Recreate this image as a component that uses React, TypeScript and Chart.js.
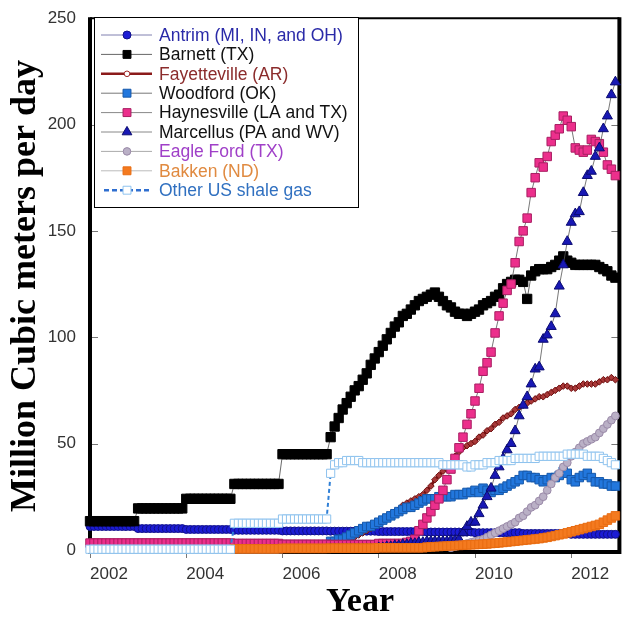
import React, { useEffect, useRef } from "react";
import { Chart, registerables } from "chart.js";

Chart.register(...registerables);

// ---------- categories / ticks ----------
const annualYears = [2002, 2003, 2004, 2005, 2006];
const monthlyStartYear = 2007;
const xTickValues = [2002, 2004, 2006, 2008, 2010, 2012];
const yTickValues = [0, 50, 100, 150, 200, 250];
const xTitle = "Year";
const yTitle = "Million Cubic meters per day";

const seriesNames = [
  "Antrim (MI, IN, and OH)",
  "Barnett (TX)",
  "Fayetteville (AR)",
  "Woodford (OK)",
  "Haynesville (LA and TX)",
  "Marcellus (PA and WV)",
  "Eagle Ford (TX)",
  "Bakken (ND)",
  "Other US shale gas",
];

// ---------- annual values 2002-2006 (repeated for each month of the year) ----------
const antrimAnnual = [11, 10, 9.6, 9.2, 8.9];
const barnettAnnual = [13.5, 19.5, 24, 31, 45];
const fayettevilleAnnual = [null, null, null, null, 1];
const woodfordAnnual = [null, null, null, 0.5, 1.5];
const haynesvilleAnnual = [3.2, 3.2, 3.2, 3.0, 2.6];
const marcellusAnnual = [null, null, null, null, null];
const eagleFordAnnual = [null, null, null, null, null];
const bakkenAnnual = [null, null, null, 0.5, 0.7];
const otherAnnual = [0.3, 0.3, 0.3, 12.5, 14.5];

// ---------- monthly values Jan 2007 - Dec 2012 ----------
const antrimMonthly = [
  8.8, 8.8, 8.8, 8.8, 8.8, 8.8, 8.8, 8.8, 8.8, 8.8, 8.8, 8.8,
  8.6, 8.6, 8.6, 8.6, 8.6, 8.6, 8.6, 8.6, 8.6, 8.6, 8.6, 8.6,
  8.4, 8.4, 8.4, 8.4, 8.4, 8.4, 8.4, 8.4, 8.4, 8.4, 8.4, 8.4,
  8.1, 8.1, 8.1, 8.1, 8.1, 8.1, 8.1, 8.1, 8.1, 8.1, 8.1, 8.1,
  7.7, 7.7, 7.7, 7.7, 7.7, 7.7, 7.7, 7.7, 7.7, 7.7, 7.7, 7.7,
  7.3, 7.3, 7.3, 7.3, 7.3, 7.3, 7.3, 7.3, 7.3, 7.3, 7.3, 7.3,
];
const barnettMonthly = [
  53, 58, 62, 66, 69, 72, 75, 77, 80, 83, 87, 90,
  93, 96, 99, 102, 105, 107, 110, 111, 113, 115, 117, 118,
  119, 120, 121, 119, 117, 115, 114, 112, 111, 111, 110, 111,
  112, 113, 115, 116, 117, 119, 120, 123, 125, 126, 127, 127,
  126, 118, 129, 131, 132, 132, 132, 133, 134, 136, 138, 136,
  135, 134, 134, 134, 134, 134, 134, 133, 132, 131, 129, 128,
];
const fayettevilleMonthly = [
  3, 3, 4, 4, 5, 5, 6, 7, 8, 9, 10, 12,
  13, 14, 15, 17, 18, 19, 21, 22, 23, 24, 25, 26,
  28, 30, 33, 35, 37, 38, 40, 44, 46, 48, 49, 50,
  51, 53, 54, 56, 57, 59, 60, 62, 63, 64, 66, 67,
  68, 69, 70, 71, 72, 72, 73, 74, 75, 76, 77, 77,
  76, 76, 77, 78, 78, 78, 78, 79, 80, 80, 81, 80,
];
const woodfordMonthly = [
  4, 4, 5, 5, 6, 7, 8, 9, 10, 11, 11, 12,
  13, 14, 15, 16, 17, 18, 19, 20, 20, 21, 22, 23,
  24, 24, 24, 25, 25, 25, 25, 26, 26, 26, 27, 27,
  28, 27, 29, 28, 27, 28, 28, 29, 30, 31, 32, 33,
  35, 35, 34, 34, 33, 32, 33, 34, 34, 35, 37, 36,
  33, 32, 34, 35, 36, 34, 32, 32, 31, 31, 30, 30,
];
const haynesvilleMonthly = [
  2.5, 2.5, 2.5, 2.5, 2.5, 2.5, 2.5, 2.5, 2.5, 2.5, 2.5, 2.5,
  3, 3, 3, 3, 3, 3, 3, 3.5, 4, 5, 9, 12,
  15, 18, 21, 24, 28, 33, 38, 43, 48, 53, 59, 64,
  70, 76, 84, 88, 93, 102, 110, 116, 122, 125, 135, 145,
  150, 156, 168, 175, 182, 180, 185, 192, 195, 198, 204, 202,
  199, 189, 188, 187, 188, 193, 192, 191, 187, 181, 179, 176,
];
const marcellusMonthly = [
  0.5, 0.5, 0.5, 0.5, 0.5, 0.5, 0.5, 0.5, 0.5, 0.5, 0.5, 0.5,
  1, 1, 1.5, 1.5, 2, 2, 2.5, 2.5, 3, 3, 3.5, 3.5,
  4, 4, 4, 4, 4, 4, 4.5, 4.5, 5, 8, 11, 13,
  13, 17, 21, 25, 29, 35, 39, 43, 47, 50, 56, 63,
  68, 72, 78, 85, 86, 99, 101, 105, 111, 124, 134, 145,
  154, 158, 159, 168, 176, 178, 185, 189, 198, 204, 214, 220,
];
const eagleFordMonthly = [
  null, null, null, null, null, null, null, null, null, null, null, null,
  null, null, null, null, null, null, null, null, null, null, null, null,
  null, null, null, null, null, null, 1, 1.5, 2, 2.5, 3, 3.5,
  4, 4.5, 5, 6, 7, 8, 9, 10, 11, 12, 13, 15,
  16, 18, 20, 21, 23, 25, 28, 31, 34, 36, 39, 41,
  44, 46, 48, 50, 51, 52, 53, 55, 57, 59, 61, 63,
];
const bakkenMonthly = [
  0.8, 0.8, 0.8, 0.8, 0.8, 0.8, 0.8, 0.8, 0.8, 0.8, 0.8, 0.8,
  1, 1, 1, 1, 1, 1, 1, 1, 1, 1, 1, 1,
  1.3, 1.4, 1.5, 1.6, 1.7, 1.8, 1.9, 2, 2.1, 2.2, 2.3, 2.4,
  2.5, 2.6, 2.7, 2.8, 3, 3.1, 3.3, 3.5, 3.7, 3.9, 4.1, 4.3,
  4.5, 4.7, 4.9, 5.1, 5.3, 5.6, 5.9, 6.3, 6.7, 7.1, 7.5, 8,
  8.5, 9, 9.5, 10, 10.5, 11, 11.5, 12, 13, 14, 15, 16,
];
const otherMonthly = [
  36, 40, 41, 41, 42, 42, 42, 42, 41, 41, 41, 41,
  41, 41, 41, 41, 41, 41, 41, 41, 41, 41, 41, 41,
  41, 41, 41, 41, 40, 40, 40, 40, 40, 40, 39, 39,
  40, 40, 40, 41, 41, 41, 42, 42, 42, 42, 43, 43,
  43, 43, 43, 43, 44, 44, 44, 44, 44, 44, 44, 45,
  45, 45, 45, 45, 44, 44, 44, 44, 43, 42, 41, 40,
];

const FONT = "'Liberation Sans', Arial, Helvetica, sans-serif";
const SERIF = "'Liberation Serif', 'Times New Roman', Times, serif";

function buildPoints(annual: (number | null)[], monthly: (number | null)[]) {
  const pts: { x: number; y: number | null }[] = [];
  annual.forEach((v, yi) => {
    for (let mo = 0; mo < 12; mo++) pts.push({ x: annualYears[yi] + mo / 12, y: v });
  });
  monthly.forEach((v, m) => pts.push({ x: monthlyStartYear + m / 12, y: v }));
  return pts;
}

type Sty = {
  pointStyle: string;
  radius: number;
  fill: string;
  stroke: string;
  pbw: number;
  line: string;
  lw: number;
  dash?: number[];
  text: string;
  legLine: string;
  legLw: number;
};

const styles: Sty[] = [
  { pointStyle: "circle", radius: 4, fill: "#1c1cd4", stroke: "#10108a", pbw: 1, line: "#6a6aa8", lw: 0.8, text: "#2a2aa8", legLine: "#8080b0", legLw: 1 },
  { pointStyle: "rect", radius: 6.6, fill: "#000000", stroke: "#000000", pbw: 1, line: "#444444", lw: 0.8, text: "#111111", legLine: "#666666", legLw: 1 },
  { pointStyle: "rectRot", radius: 3.3, fill: "#a83838", stroke: "#6e0e0e", pbw: 1, line: "#7e1414", lw: 3, text: "#8b2c2c", legLine: "#8b1a1a", legLw: 2.5 },
  { pointStyle: "rect", radius: 6, fill: "#2277dd", stroke: "#1658aa", pbw: 1, line: "#555555", lw: 0.8, text: "#111111", legLine: "#777777", legLw: 1 },
  { pointStyle: "rect", radius: 6, fill: "#ec2f8c", stroke: "#a81e62", pbw: 1, line: "#555555", lw: 0.8, text: "#111111", legLine: "#888888", legLw: 1 },
  { pointStyle: "triangle", radius: 5.8, fill: "#1818b4", stroke: "#0a0a70", pbw: 1, line: "#555555", lw: 0.8, text: "#111111", legLine: "#888888", legLw: 1 },
  { pointStyle: "circle", radius: 3.9, fill: "#bab0c6", stroke: "#9a8aa8", pbw: 1, line: "#999999", lw: 0.8, text: "#a040c8", legLine: "#aaaaaa", legLw: 1 },
  { pointStyle: "rect", radius: 6, fill: "#f47a1f", stroke: "#e86c12", pbw: 1, line: "#aaaaaa", lw: 0.8, text: "#e08a40", legLine: "#bbbbbb", legLw: 1 },
  { pointStyle: "rect", radius: 5.8, fill: "#ffffff", stroke: "#8fc3ee", pbw: 1, line: "#2f7fd6", lw: 2, dash: [4, 3], text: "#3070c0", legLine: "#2f6fd0", legLw: 2.5 },
];

const seriesData = [
  buildPoints(antrimAnnual, antrimMonthly),
  buildPoints(barnettAnnual, barnettMonthly),
  buildPoints(fayettevilleAnnual, fayettevilleMonthly),
  buildPoints(woodfordAnnual, woodfordMonthly),
  buildPoints(haynesvilleAnnual, haynesvilleMonthly),
  buildPoints(marcellusAnnual, marcellusMonthly),
  buildPoints(eagleFordAnnual, eagleFordMonthly),
  buildPoints(bakkenAnnual, bakkenMonthly),
  buildPoints(otherAnnual, otherMonthly),
];

function drawMarker(ctx: CanvasRenderingContext2D, s: Sty, x: number, y: number, r: number) {
  ctx.save();
  ctx.fillStyle = s.fill;
  ctx.strokeStyle = s.stroke;
  ctx.lineWidth = s.pbw;
  ctx.setLineDash([]);
  ctx.beginPath();
  if (s.pointStyle === "circle") {
    ctx.arc(x, y, r, 0, Math.PI * 2);
  } else if (s.pointStyle === "rect") {
    const h = r * Math.SQRT1_2;
    ctx.rect(x - h, y - h, 2 * h, 2 * h);
  } else if (s.pointStyle === "rectRot") {
    ctx.moveTo(x, y - r);
    ctx.lineTo(x + r, y);
    ctx.lineTo(x, y + r);
    ctx.lineTo(x - r, y);
    ctx.closePath();
  } else if (s.pointStyle === "triangle") {
    ctx.moveTo(x, y - r);
    ctx.lineTo(x + r * 0.866, y + r * 0.5);
    ctx.lineTo(x - r * 0.866, y + r * 0.5);
    ctx.closePath();
  }
  ctx.fill();
  ctx.stroke();
  ctx.restore();
}

const framePlugin = {
  id: "frame",
  beforeDatasetsDraw(chart: any) {
    const { ctx, chartArea } = chart;
    const { left, top, right, bottom } = chartArea;
    const y = chart.scales.y;
    ctx.save();
    ctx.strokeStyle = "#777";
    ctx.lineWidth = 1;
    yTickValues.forEach((v) => {
      const py = Math.round(y.getPixelForValue(v)) + 0.5;
      ctx.beginPath();
      ctx.moveTo(left, py);
      ctx.lineTo(left + 8, py);
      ctx.moveTo(right - 8, py);
      ctx.lineTo(right, py);
      ctx.stroke();
    });
    ctx.strokeStyle = "#000";
    ctx.lineWidth = 2;
    ctx.beginPath();
    ctx.moveTo(left, top);
    ctx.lineTo(right, top);
    ctx.stroke();
    ctx.lineWidth = 4;
    ctx.beginPath();
    ctx.moveTo(left, top - 1);
    ctx.lineTo(left, bottom);
    ctx.lineTo(right, bottom);
    ctx.lineTo(right, top - 1);
    ctx.stroke();
    ctx.restore();
  },
};

const titlePlugin = {
  id: "titles",
  afterDraw(chart: any) {
    const { ctx } = chart;
    ctx.save();
    ctx.fillStyle = "#000";
    ctx.font = `bold 36px ${SERIF}`;
    ctx.textAlign = "center";
    ctx.textBaseline = "alphabetic";
    ctx.translate(35, 286);
    ctx.rotate(-Math.PI / 2);
    ctx.fillText(yTitle, 0, 0);
    ctx.restore();
    ctx.save();
    ctx.fillStyle = "#000";
    ctx.font = `bold 34px ${SERIF}`;
    ctx.textAlign = "center";
    ctx.textBaseline = "alphabetic";
    ctx.fillText(xTitle, 360, 611);
    ctx.restore();
  },
};

const legendRadius = [4, 5.6, 2.8, 5.6, 5.6, 5.6, 3.8, 5.6, 5.6];

const legendPlugin = {
  id: "customLegend",
  afterDraw(chart: any) {
    const { ctx } = chart;
    const bx = 94, by = 17, bw = 264, bh = 190;
    ctx.save();
    ctx.fillStyle = "#fff";
    ctx.fillRect(bx, by, bw, bh);
    ctx.strokeStyle = "#000";
    ctx.lineWidth = 1;
    ctx.strokeRect(bx + 0.5, by + 0.5, bw, bh);
    const y0 = 35, dy = 19.4;
    seriesNames.forEach((name, i) => {
      const s = styles[i];
      const yy = y0 + i * dy;
      ctx.save();
      ctx.strokeStyle = s.legLine;
      ctx.lineWidth = s.legLw;
      ctx.setLineDash(s.dash ? [5, 3] : []);
      ctx.beginPath();
      ctx.moveTo(s.dash ? 104 : 101, yy);
      ctx.lineTo(s.dash ? 151 : 152, yy);
      ctx.stroke();
      ctx.restore();
      const ms: Sty = i === 2 ? { ...s, fill: "#fff", stroke: "#a02828", pointStyle: "circle" } : s;
      drawMarker(ctx, ms, 127, yy, legendRadius[i]);
      ctx.fillStyle = s.text;
      ctx.font = `17.5px ${FONT}`;
      ctx.textAlign = "left";
      ctx.textBaseline = "middle";
      ctx.fillText(name, 159, yy + 1);
    });
    ctx.restore();
  },
};

export default function App() {
  const ref = useRef<HTMLCanvasElement | null>(null);
  useEffect(() => {
    document.body.style.margin = "0";
    if (!ref.current) return;
    const datasets = seriesNames.map((name, i) => {
      const s = styles[i];
      return {
        label: name,
        data: seriesData[i],
        order: seriesNames.length - i,
        borderColor: s.line,
        borderWidth: s.lw,
        borderDash: s.dash || [],
        backgroundColor: s.fill,
        pointStyle: s.pointStyle,
        pointRadius: s.radius,
        pointBackgroundColor: s.fill,
        pointBorderColor: s.stroke,
        pointBorderWidth: s.pbw,
        pointHoverRadius: s.radius,
        tension: 0,
        fill: false,
        clip: false,
        spanGaps: false,
      };
    });
    const chart = new Chart(ref.current, {
      type: "line",
      data: { datasets: datasets as any },
      options: {
        animation: false,
        responsive: false,
        events: [],
        layout: { padding: { top: 15.5, right: 3, left: 0, bottom: 0 } },
        plugins: {
          legend: { display: false },
          tooltip: { enabled: false },
          title: { display: false },
        },
        scales: {
          x: {
            type: "linear",
            min: 2002,
            max: 2013,
            afterFit: (s: any) => {
              s.height = 68;
            },
            afterBuildTicks: (s: any) => {
              s.ticks = xTickValues.map((v) => ({ value: v }));
            },
            ticks: {
              callback: (v: any) => String(v),
              font: { size: 17, family: FONT },
              color: "#333",
              padding: 6,
              labelOffset: 19,
              maxRotation: 0,
              autoSkip: false,
            },
            grid: { drawOnChartArea: false, color: "#777", tickLength: 6, lineWidth: 1 },
            border: { display: false },
          },
          y: {
            type: "linear",
            min: -1,
            max: 250,
            afterFit: (s: any) => {
              s.width = 90;
            },
            afterBuildTicks: (s: any) => {
              s.ticks = yTickValues.map((v) => ({ value: v }));
            },
            ticks: {
              callback: (v: any) => String(v),
              font: { size: 17, family: FONT },
              color: "#333",
              padding: 8,
              autoSkip: false,
            },
            grid: { drawOnChartArea: false, color: "rgba(0,0,0,0)", tickLength: 6 },
            border: { display: false },
          },
        },
      } as any,
      plugins: [framePlugin, titlePlugin, legendPlugin],
    });
    return () => chart.destroy();
  }, []);
  return (
    <div style={{ width: 627, height: 620 }}>
      <canvas ref={ref} width={627} height={620} style={{ display: "block" }} />
    </div>
  );
}
